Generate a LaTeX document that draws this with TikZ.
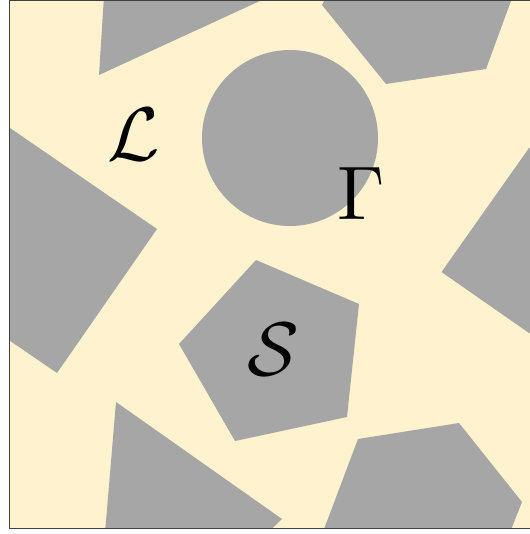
\documentclass[tikz,border=0pt]{standalone}
\begin{document}
\begin{tikzpicture}[x=1pt,y=-1pt,
  shape/.style={fill=shapegray,draw=none},
  lbl/.style={inner sep=0pt,font=\normalsize,scale=7.6}]
\definecolor{bg}{RGB}{255,242,206}
\definecolor{shapegray}{RGB}{166,166,166}
\definecolor{framec}{RGB}{64,64,64}
\useasboundingbox (0,0) rectangle (529,534);
\fill[bg] (9.5,0.5) rectangle (531,528.5);
\begin{scope}
\clip (9.5,0.5) rectangle (531,528.5);
% top-left
\fill[shapegray] (105,-20) -- (99,75) -- (262,0) -- (275,-20) -- cycle;
% top-right
\fill[shapegray] (322,5) -- (386,84) -- (486,69) -- (515,-10) -- (330,-10) -- cycle;
% circle
\fill[shapegray] (290,138) circle (88);
% left pentagon
\fill[shapegray] (10,128) -- (157,229) -- (57,373) -- (0,334) -- (0,120) -- cycle;
% right polygon
\fill[shapegray] (529,148) -- (441.5,272) -- (529,333) -- (560,333) -- (560,148) -- cycle;
% middle pentagon
\fill[shapegray] (256,260) -- (359,304) -- (347,417) -- (235,441) -- (179,344) -- cycle;
% bottom-left
\fill[shapegray] (116,402) -- (282,519) -- (255,545) -- (104,545) -- cycle;
% bottom-right
\fill[shapegray] (358,439) -- (459,423) -- (522,502) -- (505,545) -- (318,545) -- cycle;
\end{scope}
\draw[framec,line width=1.5pt] (531,528.5) -- (9.5,528.5) -- (9.5,0.5) -- (531,0.5);
\node[lbl] (L) at (134,135) {$\mathcal{L}$};
\node[lbl] (G) at (361,194) {$\Gamma$};
\node[lbl] (S) at (273,350) {$\mathcal{S}$};
\end{tikzpicture}
\end{document}
